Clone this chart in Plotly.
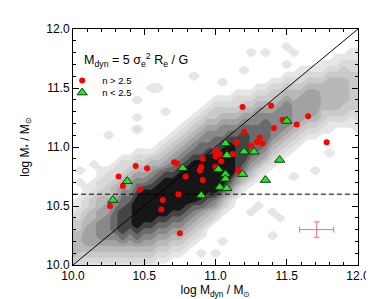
import numpy as np
import plotly.graph_objects as go

# ---- background density ----
# one string per x column (x = 10.00 ... 12.00, step 0.05);
# "offset|levels": number of empty cells from y = 10.00, then levels 0-9 going up in y (step 0.05)
DENSITY_COLUMNS = [
    "0|23444433211",
    "0|22344433221100101",
    "0|12345554432211",
    "0|123455554433211001",
    "0|12345666554432211",
    "0|12345666655433221000001",
    "0|123456777765443221",
    "0|1234678888776543221",
    "0|1234567888876554321",
    "0|12346789999987654321000201001",
    "0|12345678999998654321",
    "0|1234567899999876543100000000001",
    "1|123456789999987643210000000001",
    "1|12345678999999875432100001",
    "2|123456789999987654321",
    "2|1234567899999987654321",
    "3|1234567899999987654321",
    "4|12345679999999876543210000001",
    "2|1001234578999999877654321",
    "7|234678999999876654321",
    "2|100000235689999998776543321",
    "4|1000013468999999876654321001",
    "10|1246799999987654321",
    "12|235688888876543221",
    "13|134678888876543210001",
    "9|1000013456777776543210000001",
    "10|100001245677776654321",
    "16|124567777654321000001",
    "5|100010000000123456666543321",
    "8|100000000012345666654321",
    "19|1234566665432101001",
    "15|1000012345555443210001",
    "21|1234555543211",
    "22|123455554321",
    "16|100000123455554321",
    "23|123344443211",
    "19|1000112344444321",
    "24|123444443211",
    "24|123344443321",
    "24|1123333332211",
    "23|11223333332211",
]
GRID_START = 10.0
GRID_STEP = 0.05
GRID_N = 41
GRAYS = ["#ffffff", "#e6e6e6", "#d9d9d9", "#cacaca", "#b8b8b8",
         "#a2a2a2", "#888888", "#6a6a6a", "#444444", "#161616"]

# ---- galaxies ----
RED_X = [11.19, 11.39, 11.47, 11.41, 11.57, 11.65, 11.78, 11.20, 11.15, 11.31,
         11.29, 11.25, 11.33, 11.00, 11.03, 11.12, 10.91, 11.00, 11.04, 10.71,
         10.73, 10.44, 10.52, 10.90, 11.00, 10.89, 11.16, 10.32, 10.79, 10.91,
         10.35, 10.47, 10.74, 10.63, 10.26, 10.62, 10.75]
RED_Y = [11.34, 11.35, 11.23, 11.16, 11.19, 11.26, 11.04, 11.13, 11.04, 11.08,
         11.04, 11.01, 11.03, 10.97, 10.94, 10.94, 10.90, 10.92, 10.88, 10.87,
         10.86, 10.84, 10.82, 10.83, 10.83, 10.80, 10.80, 10.75, 10.75, 10.72,
         10.67, 10.64, 10.60, 10.55, 10.50, 10.47, 10.27]
GREEN_X = [11.50, 11.07, 11.08, 11.20, 11.27, 11.45, 10.77, 11.02, 11.07, 11.19,
           11.07, 10.38, 11.35, 11.03, 11.08, 10.90, 10.28]
GREEN_Y = [11.22, 11.03, 10.93, 10.96, 10.96, 10.89, 10.82, 10.81, 10.77, 10.77,
           10.73, 10.71, 10.72, 10.66, 10.65, 10.59, 10.55]

ERR_X = [11.71]
ERR_Y = [10.30]
ERR_DX = [0.12]
ERR_DY = [0.065]

ONE_TO_ONE = [10.0, 12.0]
MASS_CUT = 10.6
AXIS_RANGE = [10.0, 12.0]
MAJOR_STEP = 0.5
MINOR_STEP = 0.1

# ---- build the density table ----
cols = []
for c in DENSITY_COLUMNS:
    off, digits = c.split("|")
    s = ("0" * int(off) + digits).ljust(GRID_N, "0")
    cols.append([int(ch) for ch in s])
Z = np.array(cols).T
grid = GRID_START + GRID_STEP * np.arange(GRID_N)

cs = []
for k, col in enumerate(GRAYS):
    cs.append([k / len(GRAYS), col])
    cs.append([(k + 1) / len(GRAYS), col])

FONT = "Liberation Sans, Arial, Helvetica, sans-serif"

fig = go.Figure()
fig.add_trace(go.Contour(
    x=grid, y=grid, z=Z, zmin=-0.5, zmax=9.5, colorscale=cs,
    autocontour=False,
    contours=dict(start=0.25, end=8.25, size=1, coloring="fill", showlines=False),
    line=dict(width=0), showscale=False, hoverinfo="skip", showlegend=False))

fig.add_trace(go.Scatter(x=ONE_TO_ONE, y=ONE_TO_ONE, mode="lines",
                         line=dict(color="black", width=1), showlegend=False, hoverinfo="skip"))
fig.add_trace(go.Scatter(x=AXIS_RANGE, y=[MASS_CUT, MASS_CUT], mode="lines",
                         line=dict(color="black", width=1, dash="5px,3px"),
                         showlegend=False, hoverinfo="skip"))

fig.add_trace(go.Scatter(x=RED_X, y=RED_Y, mode="markers", name="n > 2.5",
                         legend="legend",
                         marker=dict(color="#ff0000", size=6, line=dict(width=0))))
fig.add_trace(go.Scatter(x=GREEN_X, y=GREEN_Y, mode="markers", name="n < 2.5",
                         legend="legend2",
                         marker=dict(color="#22e622", size=9, symbol="triangle-up",
                                     line=dict(color="#123812", width=1))))

fig.add_trace(go.Scatter(x=ERR_X, y=ERR_Y, mode="markers",
                         marker=dict(size=1, color="rgba(0,0,0,0)"),
                         error_x=dict(type="data", array=ERR_DX, color="#f07070", thickness=1, width=3),
                         error_y=dict(type="data", array=ERR_DY, color="#f07070", thickness=1, width=3),
                         showlegend=False, hoverinfo="skip"))

axis_common = dict(
    range=AXIS_RANGE, tickmode="linear", tick0=AXIS_RANGE[0], dtick=MAJOR_STEP,
    tickformat=".1f",
    ticks="inside", ticklen=6, tickwidth=1, tickcolor="black",
    minor=dict(ticks="inside", ticklen=3, dtick=MINOR_STEP, tickwidth=1, tickcolor="black"),
    showline=True, linecolor="black", linewidth=1, mirror="allticks",
    showgrid=False, zeroline=False,
    tickfont=dict(family=FONT, size=12, color="black"),
)

legend_common = dict(xanchor="left", yanchor="top", bgcolor="rgba(0,0,0,0)",
                     font=dict(family=FONT, size=9.5, color="black"),
                     itemwidth=30, tracegroupgap=0)

fig.update_layout(
    width=374, height=299,
    margin=dict(l=65, r=21, t=21, b=42),
    paper_bgcolor="white", plot_bgcolor="white",
    font=dict(family=FONT, color="black"),
    xaxis=dict(**axis_common,
               title=dict(text="log M<sub>dyn</sub> / M<sub>⊙</sub>",
                          font=dict(family=FONT, size=12), standoff=0)),
    yaxis=dict(**axis_common,
               title=dict(text="log M<sub>*</sub> / M<sub>⊙</sub>",
                          font=dict(family=FONT, size=12), standoff=14)),
    legend=dict(x=-0.038, y=0.843, **legend_common),
    legend2=dict(x=-0.038, y=0.792, **legend_common),
    annotations=[dict(
        x=0.03, y=0.87, xref="paper", yref="paper", xanchor="left", yanchor="middle",
        text="M<sub>dyn</sub> = 5 σ<sub>e</sub><sup>2</sup> R<sub>e</sub> / G",
        showarrow=False, font=dict(family=FONT, size=12.5, color="black"))],
)

fig.write_html("out.html")
